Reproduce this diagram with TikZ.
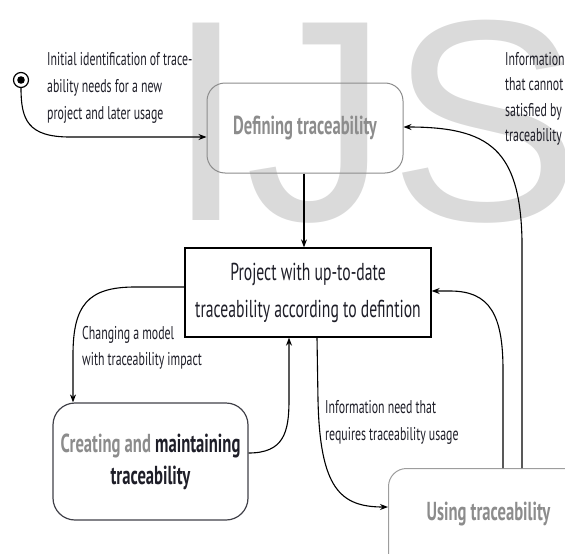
\documentclass[tikz,border=0pt]{standalone}
\usepackage{fontspec}
\setmainfont{PT Sans}[FakeStretch=0.64]
\newfontfamily\wmfont{Liberation Sans}
\usetikzlibrary{arrows.meta}

\definecolor{wmgray}{HTML}{DADADA}
\definecolor{boxgray}{HTML}{8C8C8C}
\definecolor{ink}{HTML}{1E1E28}

\tikzset{
  flow/.style={draw=black, line width=1.1pt, -{Stealth[length=8pt,width=6pt]}},
  boxfont/.style={font=\bfseries\fontsize{26}{32}\selectfont},
  softbox/.style={draw=boxgray, line width=1pt, rounded corners=18pt, text=boxgray, boxfont, align=center},
  inkbox/.style={draw=ink!85, line width=1.2pt, rounded corners=22pt, text=ink, boxfont, align=center},
  mainbox/.style={draw=black, line width=1.3pt, text=ink, align=center,
    font=\fontsize{24.5}{37}\selectfont},
  note/.style={text=ink, align=left, inner sep=0pt, anchor=north west},
  startnode/.style={circle, draw=black, line width=1.2pt, minimum size=15pt, inner sep=0pt,
    path picture={\fill[black] (path picture bounding box.center) circle (3.8pt);}},
}

\begin{document}
\begin{tikzpicture}[x=1pt, y=-1pt]
  \useasboundingbox (0,0) rectangle (565,554);
  \clip (0,0) rectangle (565,554);

  % background lettering
  \node[anchor=base west, inner sep=0pt, text=wmgray, font=\wmfont\fontsize{287}{287}\selectfont]
    (wm) at (166,220) {IJS};

  % states
  \node[startnode] (start) at (21,80) {};
  \node[softbox, minimum width=196pt, minimum height=90pt] (def) at (305,128) {Defining traceability};
  \node[mainbox, minimum width=246pt, minimum height=89pt] (proj) at (308,292.5)
    {Project with up-to-date\\traceability according to defintion};
  \node[inkbox, minimum width=195pt, minimum height=117pt] (create) at (150.5,461.5)
    {\textcolor{boxgray}{Creating and} maintaining\\traceability};
  \node[softbox, draw=boxgray!85, anchor=north west, minimum width=200pt, inner ysep=0pt,
    text height=52pt, text depth=78pt] (use) at (388,468) {Using traceability};

  % annotations
  \node[note, font=\fontsize{18.5}{27}\selectfont] (initnote) at (47,52)
    {Initial identification of trace-\\ability needs for a new\\project and later usage};
  \node[note, font=\fontsize{18.5}{25.5}\selectfont] (gapnote) at (505,52)
    {Information\\that cannot\\satisfied by\\traceability};
  \node[note, font=\fontsize{18.5}{26}\selectfont] (changenote) at (82,326)
    {Changing a model\\with traceability impact};
  \node[note, font=\fontsize{18.5}{27}\selectfont] (neednote) at (325,400)
    {Information need that\\requires traceability usage};

  % transitions
  \draw[flow] (start.south) .. controls (21,120) and (28,137) .. (70,137) -- (def.west |- 0,137);
  \draw[flow] (def.south -| 304,0) -- (proj.north -| 304,0);
  \draw[flow] (proj.west |- 0,287) -- (135,287) .. controls (88,287) and (73,305) .. (73,355)
    -- (create.north -| 73,0);
  \draw[flow] (create.east |- 0,453) .. controls (284,453) and (289,432) .. (289,400)
    -- (proj.south -| 289,0);
  \draw[flow] (proj.south -| 317,0) -- (318,400) .. controls (320,488) and (340,507) .. (use.west |- 0,507);
  \draw[flow] ([xshift=115pt]use.north west) -- (503,370) .. controls (503,315) and (490,291) .. (450,291)
    -- (proj.east |- 0,291);
  \draw[flow] ([xshift=134pt]use.north west) -- (522,240) .. controls (520,150) and (490,127) .. (def.east |- 0,127);
\end{tikzpicture}
\end{document}
